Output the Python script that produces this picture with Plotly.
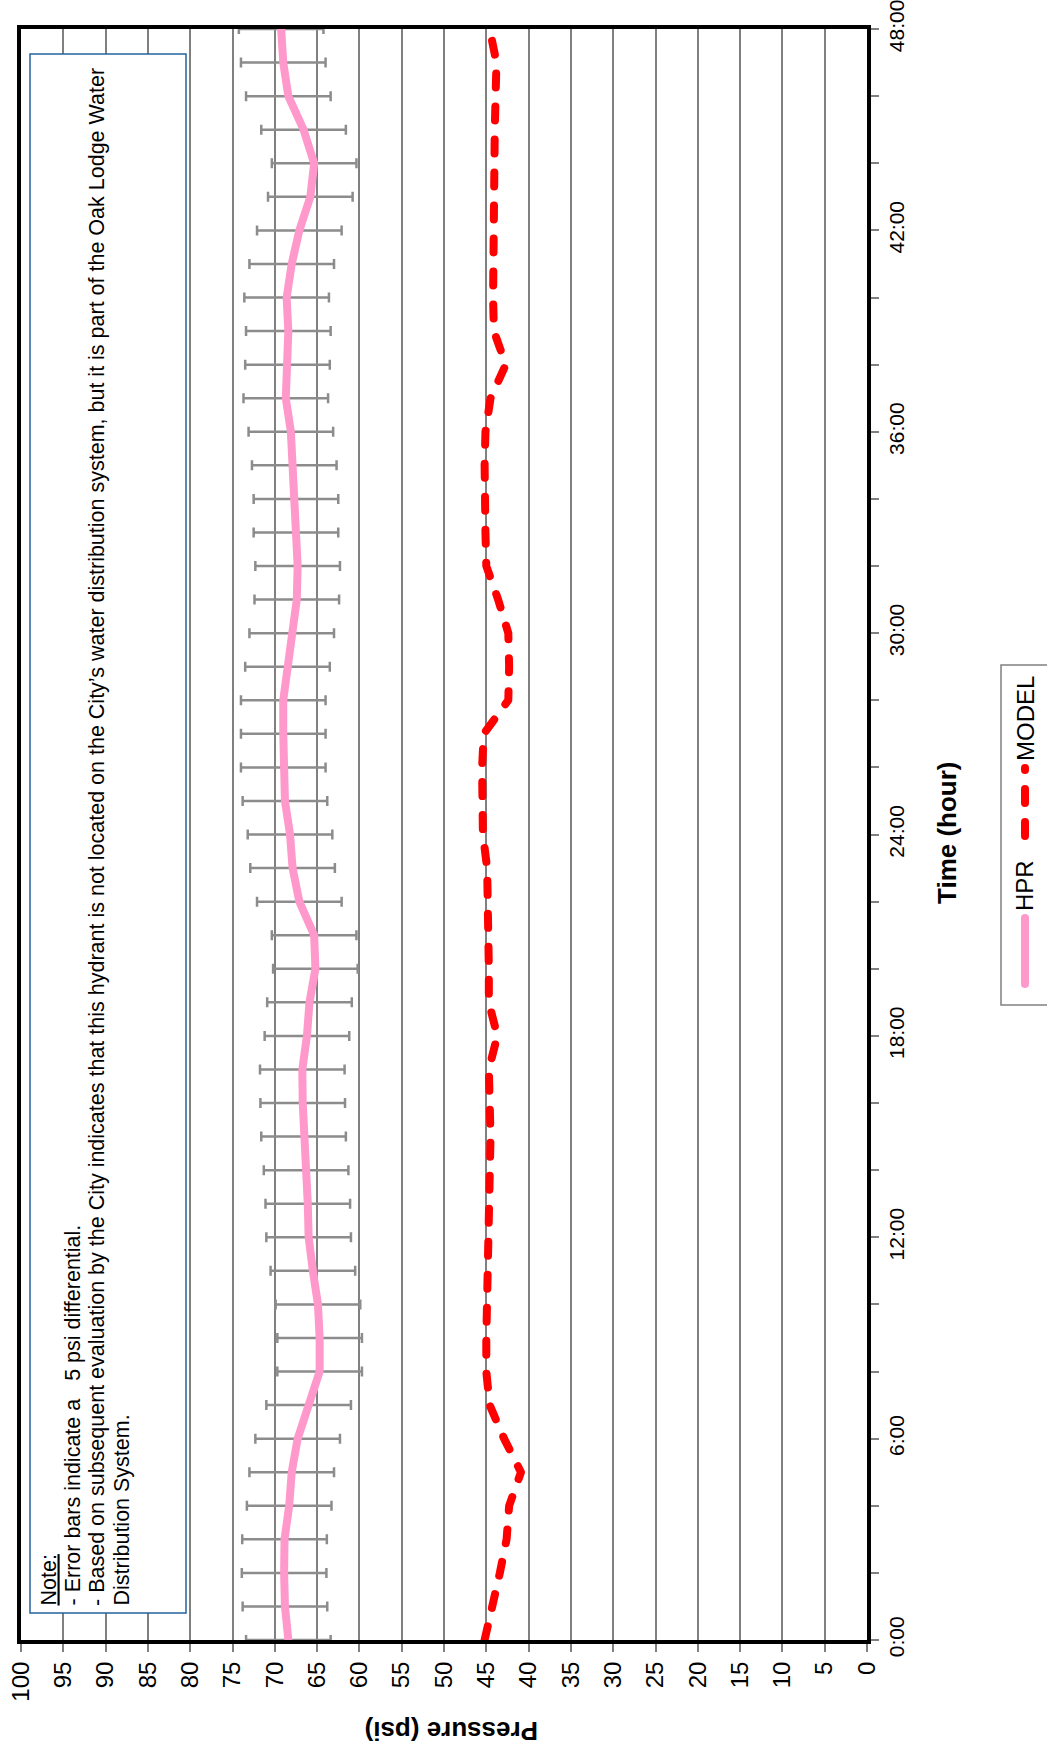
import plotly.graph_objects as go

# ---------------- data ----------------
hours = [0, 1, 2, 3, 4, 5, 6, 7, 8, 9, 10, 11, 12, 13, 14, 15, 16, 17, 18, 19, 20,
         21, 22, 23, 24, 25, 26, 27, 28, 29, 30, 31, 32, 33, 34, 35, 36, 37, 38, 39,
         40, 41, 42, 43, 44, 45, 46, 47, 48]

hpr = [68.4, 68.8, 68.9, 68.85, 68.3, 68.0, 67.3, 66.0, 64.7, 64.7, 64.9,
       65.5, 66.0, 66.1, 66.3, 66.6, 66.7, 66.75, 66.2, 65.9, 65.2,
       65.35, 67.1, 67.9, 68.2, 68.8, 69.0, 69.0, 69.0, 68.5, 68.0,
       67.4, 67.3, 67.5, 67.5, 67.7, 68.1, 68.7, 68.5, 68.4, 68.6,
       68.0, 67.1, 65.8, 65.35, 66.6, 68.4, 69.0, 69.25]

model = [45.2, 44.2, 43.4, 42.6, 42.3, 40.9, 42.9, 44.6, 45.0, 45.0, 44.9,
         44.8, 44.7, 44.6, 44.5, 44.5, 44.6, 44.7, 43.7, 44.7, 44.7,
         44.7, 44.8, 44.9, 45.4, 45.5, 45.5, 45.3, 42.4, 42.3, 42.4,
         43.6, 45.0, 45.1, 45.2, 45.2, 45.1, 44.5, 42.7, 44.1, 44.2,
         44.2, 44.2, 44.2, 44.1, 44.0, 43.9, 43.8, 44.6]

error_psi = 5

pressure_ticks = [0, 5, 10, 15, 20, 25, 30, 35, 40, 45, 50, 55, 60, 65, 70, 75, 80, 85, 90, 95, 100]
time_tickvals = [0, 6, 12, 18, 24, 30, 36, 42, 48]
time_ticktext = ["0:00", "6:00", "12:00", "18:00", "24:00", "30:00", "36:00", "42:00", "48:00"]

note_lines = [
    "<u>Note:</u>",
    "- Error bars indicate a \u00a0\u00a05 psi differential.",
    "- Based on subsequent evaluation by the City indicates that this hydrant is not located on the City\u2019s water distribution system, but it is part of the Oak Lodge Water",
    "Distribution System.",
]

# ---------------- layout geometry (pixels) ----------------
W, H = 1047, 1751
L, R, T, B = 21, 867, 29, 1640
PW, PH = R - L, B - T


def px(x):
    return (x - L) / PW


def py(y):
    return (B - y) / PH


FONT = "Arial, Liberation Sans, sans-serif"
PINK = "#FF99CC"
RED = "#FF0000"
GRAY = "#8C8C8C"
DASH = "14px,19px"

fig = go.Figure()

# error bars (drawn first, beneath line)
fig.add_trace(go.Scatter(
    x=hpr, y=hours, mode="markers",
    marker=dict(size=1, opacity=0),
    error_x=dict(type="constant", value=error_psi, color=GRAY, thickness=2.5, width=5),
    hoverinfo="skip", showlegend=False,
))
fig.add_trace(go.Scatter(
    x=hpr, y=hours, mode="lines", name="HPR",
    line=dict(color=PINK, width=8), showlegend=False,
))
fig.add_trace(go.Scatter(
    x=model, y=hours, mode="lines", name="MODEL",
    line=dict(color=RED, width=8, dash=DASH), showlegend=False,
))

shapes = []
annotations = []

# note box
shapes.append(dict(type="rect", xref="paper", yref="paper",
                   x0=px(30), x1=px(186), y0=py(1613), y1=py(54),
                   line=dict(color="#2563A0", width=1.5), fillcolor="white", layer="above"))
line_x = [48, 72, 97, 121]
for txt, lx in zip(note_lines, line_x):
    annotations.append(dict(
        xref="paper", yref="paper", x=px(lx), y=py(1608), xanchor="center", yanchor="bottom",
        text=txt, textangle=-90, align="left", showarrow=False,
        font=dict(family=FONT, size=21.5, color="black"),
    ))

# axis titles
annotations.append(dict(
    xref="paper", yref="paper", x=px(452), y=py(1731), xanchor="center", yanchor="middle",
    text="<b>Pressure (psi)</b>", textangle=180, showarrow=False,
    font=dict(family=FONT, size=26, color="black"),
))
annotations.append(dict(
    xref="paper", yref="paper", x=px(947), y=py(832), xanchor="center", yanchor="middle",
    text="<b>Time (hour)</b>", textangle=-90, showarrow=False,
    font=dict(family=FONT, size=26, color="black"),
))

# legend (manual, rotated)
shapes.append(dict(type="rect", xref="paper", yref="paper",
                   x0=px(1001), x1=px(1060), y0=py(1005), y1=py(665),
                   line=dict(color="#808080", width=1.5), fillcolor="white", layer="above"))
shapes.append(dict(type="line", xref="paper", yref="paper",
                   x0=px(1025), x1=px(1025), y0=py(984), y1=py(918),
                   line=dict(color=PINK, width=8), layer="above"))
shapes.append(dict(type="line", xref="paper", yref="paper",
                   x0=px(1025), x1=px(1025), y0=py(836), y1=py(768),
                   line=dict(color=RED, width=8, dash=DASH), layer="above"))
annotations.append(dict(
    xref="paper", yref="paper", x=px(1025), y=py(886), xanchor="center", yanchor="middle",
    text="HPR", textangle=-90, showarrow=False,
    font=dict(family=FONT, size=24, color="black"),
))
annotations.append(dict(
    xref="paper", yref="paper", x=px(1025), y=py(719), xanchor="center", yanchor="middle",
    text="MODEL", textangle=-90, showarrow=False,
    font=dict(family=FONT, size=24, color="black"),
))

fig.update_layout(
    width=W, height=H,
    margin=dict(l=L, r=W - R, t=T, b=H - B, autoexpand=False),
    paper_bgcolor="white", plot_bgcolor="white",
    showlegend=False, hovermode=False,
    shapes=shapes, annotations=annotations,
    xaxis=dict(
        range=[100, 0], tickmode="array", tickvals=pressure_ticks,
        ticktext=[str(v) for v in pressure_ticks],
        tickangle=-90, ticks="outside", ticklen=8, tickcolor="#808080", tickwidth=1.5,
        showgrid=True, gridcolor="#808080", gridwidth=1.5, zeroline=False,
        showline=True, mirror=True, linecolor="black", linewidth=4,
        layer="below traces", ticklabeloverflow="allow",
        tickfont=dict(family=FONT, size=24, color="black"),
    ),
    yaxis=dict(
        range=[0, 48], side="right", tickmode="array", tickvals=time_tickvals,
        ticktext=time_ticktext, tickangle=-90, ticks="outside", ticklen=8,
        tickcolor="#808080", tickwidth=1.5,
        minor=dict(ticks="outside", dtick=2, ticklen=8, tickcolor="#808080", tickwidth=1.5, showgrid=False),
        showgrid=False, zeroline=False,
        showline=True, mirror=True, linecolor="black", linewidth=4,
        layer="below traces", ticklabeloverflow="allow",
        tickfont=dict(family=FONT, size=21, color="black"),
    ),
)

post = (
    "document.body.style.margin='0';document.body.style.overflow='hidden';"
    "document.querySelectorAll('path').forEach(function(p){"
    "var w=parseFloat(p.style.strokeWidth||p.getAttribute('stroke-width')||0);"
    "if(w>=7){p.style.strokeLinecap='round';p.style.strokeLinejoin='round';}});"
)

fig.write_html("out.html", config={"displayModeBar": False}, post_script=post)
